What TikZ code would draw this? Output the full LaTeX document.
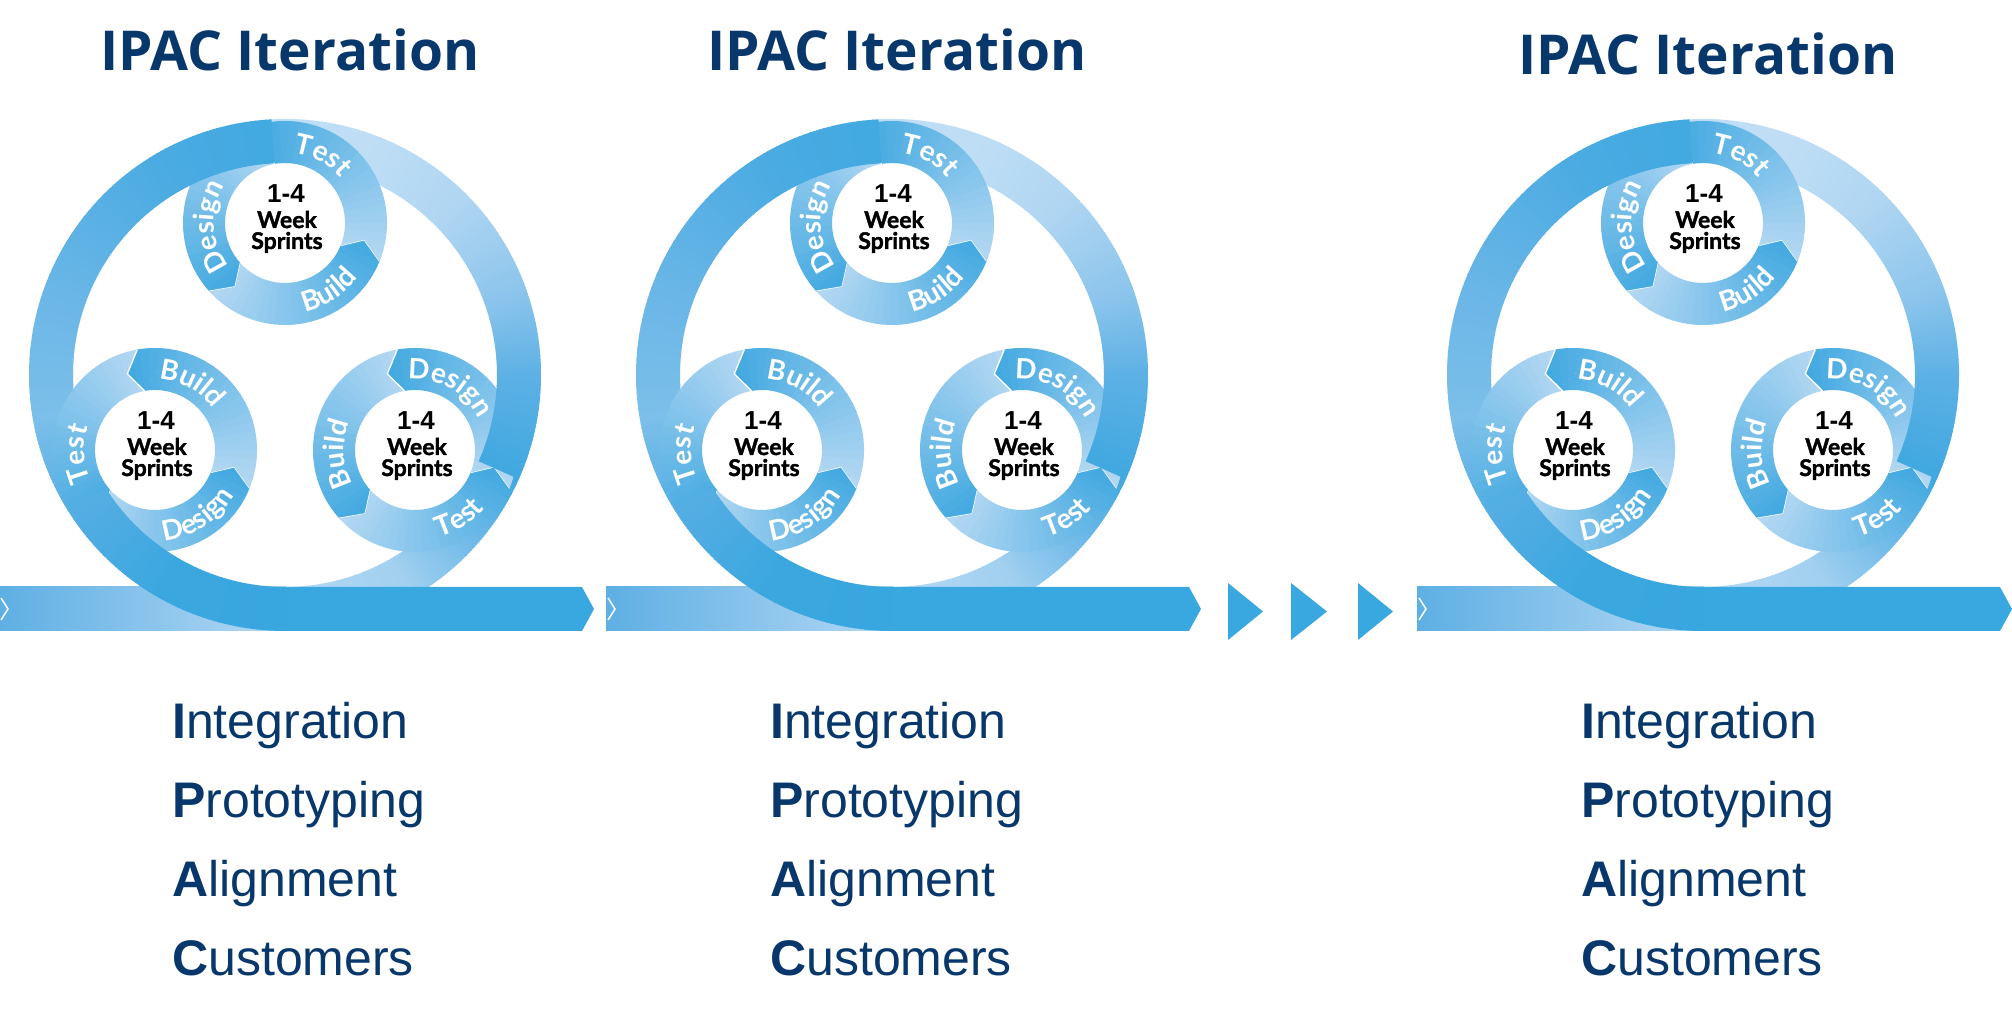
\documentclass[tikz,border=0pt]{standalone}
\usepackage{fontspec}
\setmainfont{Liberation Sans}
\newfontfamily\opensans{Open Sans}
\newfontfamily\lato{Lato}
\newfontfamily\latoblk[FakeBold=1.6]{Lato}
\usetikzlibrary{decorations.text}

\definecolor{navy}{RGB}{8,55,107}
\definecolor{dkblue}{HTML}{3AA8E0}
\definecolor{segL}{HTML}{B4D8F3}
\definecolor{segD}{HTML}{3FA8E0}
\definecolor{barL}{HTML}{5EAFE4}
\definecolor{barR}{HTML}{B3D8F3}
\definecolor{rA}{HTML}{B5D9F3}
\definecolor{rB}{HTML}{A2D0F0}
\definecolor{rC}{HTML}{6CB8E8}
\definecolor{rD}{HTML}{40A8E0}
\definecolor{rE}{HTML}{5DB1E5}
\definecolor{rF}{HTML}{8DC5EC}
\definecolor{rG}{HTML}{B0D6F2}
\definecolor{rH}{HTML}{BFDEF5}
\definecolor{rI}{HTML}{42A9E1}
\definecolor{rJ}{HTML}{4AABE2}
\definecolor{rK}{HTML}{6AB6E7}
\definecolor{rL}{HTML}{7CBFEA}
\definecolor{rM}{HTML}{55AEE4}
\definecolor{rN}{HTML}{3BA7DF}
\definecolor{rO}{HTML}{38A6DF}

\newcommand{\labfont}{\lato\bfseries\fontsize{28}{28}\selectfont}

% annular sector with angular colour gradient (centre = origin)
\newcommand{\gradarc}[6]{%
  \foreach \gk in {0,...,23}{%
    \pgfmathsetmacro\gA{#3+(#4-(#3))*\gk/24}%
    \pgfmathsetmacro\gB{#3+(#4-(#3))*(\gk+1)/24+0.3}%
    \pgfmathtruncatemacro\gP{100*(\gk+0.5)/24}%
    \fill[#6!\gP!#5] (\gA:#1pt) arc[start angle=\gA,end angle=\gB,radius=#1pt]
      -- (\gB:#2pt) arc[start angle=\gB,end angle=\gA,radius=#2pt] -- cycle;
  }}

% one chevron segment of a small ring
\newcommand{\segm}[2]{%
  \begin{scope}
    \clip (#1:102pt) arc[start angle=#1,end angle=#2,radius=102pt] -- ({#2+10}:81pt)
      -- (#2:60pt) arc[start angle=#2,end angle=#1,radius=60pt] -- ({#1+10}:81pt) -- cycle;
    \gradarc{104}{57}{#1}{#2+10}{segL}{segD}
  \end{scope}
  \draw[white,line width=1.3pt] (#2:102pt) -- ({#2+10}:81pt) -- (#2:60pt);
}

\newcommand{\labU}[2]{\path[decorate,decoration={text along path,text align=center,
  text={|\labfont\color{white}|#2}}] ({#1+50}:71pt) arc[start angle={#1+50},end angle={#1-50},radius=71pt];}
\newcommand{\labL}[2]{\path[decorate,decoration={text along path,text align=center,
  text={|\labfont\color{white}|#2}}] ({#1-50}:91pt) arc[start angle={#1-50},end angle={#1+50},radius=91pt];}

\newcommand{\smallcircle}[6]{%
  \begin{scope}[shift={(#2,#3)}]
    \segm{100}{222}
    \segm{222}{338}
    \segm{338}{460}
    \fill[white] (0,0) circle[radius=59pt];
    \labU{183}{#4}
    \labL{303}{#5}
    \labU{61}{#6}
    \node[num] (#1-a) at (1,20) {1-4};
    \node[wk,text depth=0pt] (#1-b) at (2,-5) {Week};
    \node[wk,text depth=4pt] (#1-c) at (2,-26) {Sprints};
  \end{scope}}

\newcommand{\ringunder}{%
  \gradarc{256}{212}{-90}{-60}{rA}{rB}
  \gradarc{256}{212}{-60}{-40}{rB}{rC}
  \gradarc{256}{212}{-40}{-24}{rC}{rD}
  \gradarc{256}{212}{20}{45}{rF}{rG}
  \gradarc{256}{212}{45}{70}{rG}{rH}
  \gradarc{256}{212}{70}{93}{rH}{rH}
  \gradarc{256}{212}{160}{190}{rK}{rL}
  \gradarc{256}{212}{190}{212}{rL}{rM}}
\newcommand{\ringover}{%
  \gradarc{256}{212}{-24}{0}{rD}{rE}
  \gradarc{256}{212}{0}{20}{rE}{rF}
  \gradarc{256}{212}{93}{120}{rI}{rJ}
  \gradarc{256}{212}{120}{160}{rJ}{rK}
  \gradarc{256}{212}{212}{240}{rM}{rN}
  \gradarc{256}{212}{240}{270}{rN}{rO}}

\newcommand{\panel}[4]{% id, dx, title dy, list dx
  \begin{scope}[shift={(#2,0)}]
    \begin{scope}[shift={(285,642)}]\ringunder\end{scope}
    \shade[left color=barL,right color=barR] (-1,386) rectangle (286,430);
    \fill[dkblue] (285,386) -- (582,386) -- (594,408) -- (582,430) -- (285,430) -- cycle;
    \draw[white,line width=1.5pt] (1,419) -- (8,408) -- (1,397);
    \smallcircle{#1t}{285}{794}{Design}{Build}{Test}
    \smallcircle{#1l}{155}{567}{Test}{Design}{Build}
    \smallcircle{#1r}{415}{567}{Build}{Test}{Design}
    \begin{scope}[shift={(285,642)}]\ringover\end{scope}
    \node[ttl] (#1title) at (290,{946+#3}) {IPAC Iteration};
  \end{scope}
  \begin{scope}[shift={(#4,0)}]
    \node[acr] (#1i) at (172,278) {\textbf{I}ntegration};
    \node[acr] (#1p) at (172,199) {\textbf{P}rototyping};
    \node[acr] (#1al) at (172,120) {\textbf{A}lignment};
    \node[acr] (#1c) at (172,42) {\textbf{C}ustomers};
  \end{scope}}

\begin{document}
\begin{tikzpicture}[x=1pt,y=1pt,
  ttl/.style={anchor=base,inner sep=0pt,text=navy,font=\opensans\bfseries\fontsize{55}{55}\selectfont},
  acr/.style={anchor=base west,inner sep=0pt,text=navy,font=\fontsize{50}{50}\selectfont},
  num/.style={anchor=base,inner sep=0pt,text=black,text height=19pt,text depth=0pt,font=\bfseries\fontsize{26}{26}\selectfont},
  wk/.style={anchor=base,inner sep=0pt,text=black,text height=16pt,font=\latoblk\bfseries\fontsize{23}{23}\selectfont}]
  \fill[white] (0,0) rectangle (2012,1017);
  \useasboundingbox (0,0) rectangle (2012,1017);
  \panel{a}{0}{0}{0}
  \panel{b}{607}{0}{598}
  \panel{c}{1418}{-4}{1409}
  \fill[dkblue] (1228,434) -- (1263,405.5) -- (1228,377) -- cycle;
  \fill[dkblue] (1291,434) -- (1327,405.5) -- (1291,377) -- cycle;
  \fill[dkblue] (1358,434) -- (1393,405.5) -- (1358,377) -- cycle;
\end{tikzpicture}
\end{document}
